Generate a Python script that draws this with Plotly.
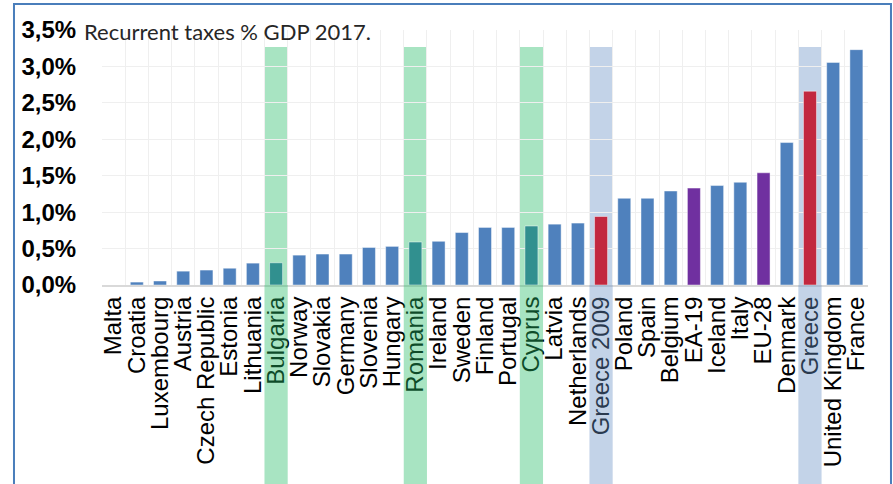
import plotly.graph_objects as go

# Recurrent property taxes as % of GDP, 2017 (Greece 2009 shown for reference)
countries = [
    "Malta", "Croatia", "Luxembourg", "Austria", "Czech Republic", "Estonia",
    "Lithuania", "Bulgaria", "Norway", "Slovakia", "Germany", "Slovenia",
    "Hungary", "Romania", "Ireland", "Sweden", "Finland", "Portugal", "Cyprus",
    "Latvia", "Netherlands", "Greece 2009", "Poland", "Spain", "Belgium",
    "EA-19", "Iceland", "Italy", "EU-28", "Denmark", "Greece",
    "United Kingdom", "France",
]
values = [
    0.00, 0.04, 0.055, 0.19, 0.205, 0.23,
    0.30, 0.305, 0.41, 0.425, 0.425, 0.515,
    0.53, 0.59, 0.60, 0.72, 0.79, 0.79, 0.81,
    0.835, 0.85, 0.94, 1.19, 1.19, 1.29,
    1.33, 1.365, 1.41, 1.54, 1.955, 2.66,
    3.055, 3.23,
]

# groups used for colouring and for the highlight bands
eu_aggregates = ["EA-19", "EU-28"]
greece_bars = ["Greece 2009", "Greece"]
balkan_peers = ["Bulgaria", "Romania", "Cyprus"]

tick_values = [0, 0.5, 1.0, 1.5, 2.0, 2.5, 3.0, 3.5]
tick_labels = [f"{v:.1f}".replace(".", ",") + "%" for v in tick_values]

BLUE = "#4F81BD"
TEAL = "#31908F"
RED = "#C2283F"
PURPLE = "#7030A0"
GREEN_BAND = "rgba(38,188,103,0.40)"
BLUE_BAND = "rgba(105,145,198,0.40)"


def bar_colour(name):
    if name in greece_bars:
        return RED
    if name in eu_aggregates:
        return PURPLE
    if name in balkan_peers:
        return TEAL
    return BLUE


colours = [bar_colour(c) for c in countries]

fig = go.Figure(
    go.Bar(
        x=countries,
        y=values,
        marker=dict(color=colours, line=dict(color="rgba(255,255,255,0.45)", width=1)),
        hoverinfo="x+y",
    )
)

band_top = 3.265
shapes = []
for name in balkan_peers + greece_bars:
    idx = countries.index(name)
    fill = GREEN_BAND if name in balkan_peers else BLUE_BAND
    # band inside the plot area, behind the bars
    shapes.append(dict(
        type="rect", xref="x", yref="y", layer="below",
        x0=idx - 0.5, x1=idx + 0.5, y0=0, y1=band_top,
        fillcolor=fill, line=dict(width=0),
    ))
    # continuation over the category labels
    shapes.append(dict(
        type="rect", xref="x", yref="paper", layer="above",
        x0=idx - 0.5, x1=idx + 0.5, y0=-1.2, y1=0,
        fillcolor=fill, line=dict(width=0),
    ))

# outer frame of the chart
shapes.append(dict(
    type="rect", xref="paper", yref="paper", layer="above",
    x0=-0.1149, x1=1.0300, y0=-1.2, y1=1.102,
    line=dict(color="#4A7EBB", width=2), fillcolor="rgba(0,0,0,0)",
))

fig.update_layout(
    width=893,
    height=484,
    margin=dict(l=102, r=25, t=30, b=199),
    paper_bgcolor="white",
    plot_bgcolor="white",
    bargap=0.44,
    showlegend=False,
    shapes=shapes,
    annotations=[dict(
        text="Recurrent taxes % GDP 2017.",
        xref="paper", yref="paper", x=-0.026, y=0.996,
        xanchor="left", yanchor="middle", showarrow=False,
        font=dict(family="Lato, Noto Sans, sans-serif", size=22, color="#262626"),
    )],
    xaxis=dict(
        type="category",
        tickmode="array",
        tickvals=countries,
        ticktext=countries,
        tickson="boundaries",
        tickangle=-90,
        ticks="outside",
        ticklen=22,
        tickcolor="rgba(0,0,0,0)",
        tickfont=dict(family="Liberation Sans, Arial, sans-serif", size=24, color="#000000"),
        showgrid=True,
        gridcolor="#EFEFEF",
        gridwidth=1,
        showline=True,
        linecolor="#D9D9D9",
        linewidth=2,
        range=[-0.5, len(countries) - 0.5],
        fixedrange=True,
    ),
    yaxis=dict(
        range=[0, 3.5],
        tickmode="array",
        tickvals=tick_values,
        ticktext=tick_labels,
        ticks="outside",
        ticklen=20,
        tickcolor="rgba(0,0,0,0)",
        tickfont=dict(family="Liberation Sans Narrow, Arial Narrow, Liberation Sans, Arial, sans-serif",
                      size=24, color="#000000", weight="bold"),
        showgrid=True,
        gridcolor="#EFEFEF",
        gridwidth=1,
        zeroline=False,
        fixedrange=True,
    ),
)

fig.write_html("out.html")
